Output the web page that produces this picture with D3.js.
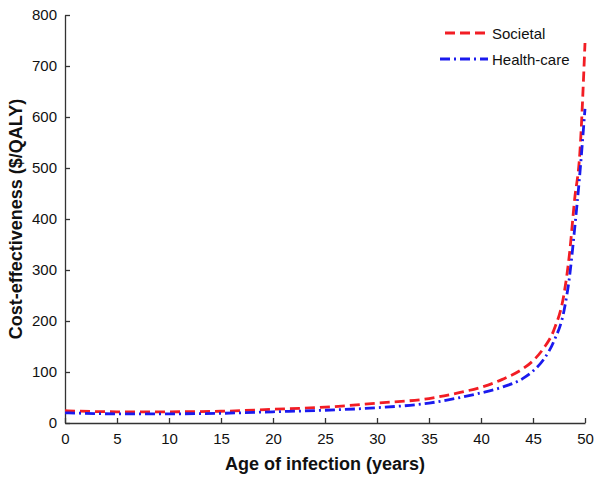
<!DOCTYPE html>
<meta charset="utf-8">
<script src="https://cdn.jsdelivr.net/npm/d3@7"></script>
<style>
  body { margin: 0; background: #fff; }
  text { font-family: "Liberation Sans", Arial, sans-serif; fill: #111; }
</style>
<body>
<script>

var width = 601
var height = 479

// values
var ages       = [0, 5, 10, 15, 20, 25, 30, 35, 38, 40, 42, 44, 45, 46, 47, 48, 48.5, 49, 49.5, 50]
var societal   = [24, 22, 22, 23, 27, 31, 39, 48, 60, 70, 85, 106, 122, 146, 182, 255, 330, 438, 528, 745]
var healthcare = [20, 18, 18, 19, 22, 25, 30, 39, 50, 59, 70, 87, 102, 124, 160, 222, 285, 380, 488, 616]
var xTicks = [0, 5, 10, 15, 20, 25, 30, 35, 40, 45, 50]
var yTicks = [0, 100, 200, 300, 400, 500, 600, 700, 800]
var seriesNames = ["Societal", "Health-care"]

var x = d3.scaleLinear().domain([0, 50]).range([65, 585])
var y = d3.scaleLinear().domain([0, 800]).range([423, 15])

var svg = d3.select("body").append("svg")
            .attr("width", width)
            .attr("height", height)

svg.append("g")
    .attr("transform", "translate(0," + y(0) + ")")
    .call(d3.axisBottom(x).tickValues(xTicks).tickSizeInner(-5).tickSizeOuter(0).tickPadding(10))
svg.append("g")
    .attr("transform", "translate(" + x(0) + ",0)")
    .call(d3.axisLeft(y).tickValues(yTicks).tickSizeInner(-5).tickSizeOuter(0).tickPadding(8))

svg.selectAll(".domain, .tick line").attr("stroke", "#333").attr("stroke-width", 1.3)
svg.selectAll(".tick text").style("font-size", "15px").attr("fill", "#111")

var line_for = function(vals) {
  return d3.line()
    .x(function(d, i) { return x(ages[i]) })
    .y(function(d) { return y(d) })
    .curve(d3.curveMonotoneX)(vals)
}

svg.append("path").attr("d", line_for(societal))
   .attr("fill", "none").attr("stroke", "#f21d24").attr("stroke-width", 2.8)
   .attr("stroke-dasharray", "10 5")
svg.append("path").attr("d", line_for(healthcare))
   .attr("fill", "none").attr("stroke", "#1a1aee").attr("stroke-width", 2.8)
   .attr("stroke-dasharray", "10 4 2 4")

// legend
var leg = svg.append("g")
leg.append("line").attr("x1", 445).attr("x2", 488).attr("y1", 33).attr("y2", 33)
   .attr("stroke", "#f21d24").attr("stroke-width", 2.8).attr("stroke-dasharray", "10 5")
leg.append("line").attr("x1", 440).attr("x2", 488).attr("y1", 59).attr("y2", 59)
   .attr("stroke", "#1a1aee").attr("stroke-width", 2.8).attr("stroke-dasharray", "10 4 2 4")
leg.append("text").attr("x", 492).attr("y", 39).style("font-size", "15px").text(seriesNames[0])
leg.append("text").attr("x", 492).attr("y", 65).style("font-size", "15px").text(seriesNames[1])

svg.append("text")
   .attr("x", 325).attr("y", 470)
   .style("text-anchor", "middle").style("font-size", "18px").style("font-weight", "bold")
   .text("Age of infection (years)")

svg.append("text")
   .attr("transform", "translate(22," + 219 + ") rotate(-90)")
   .style("text-anchor", "middle").style("font-size", "18px").style("font-weight", "bold")
   .text("Cost-effectiveness ($/QALY)")

</script>
</body>
